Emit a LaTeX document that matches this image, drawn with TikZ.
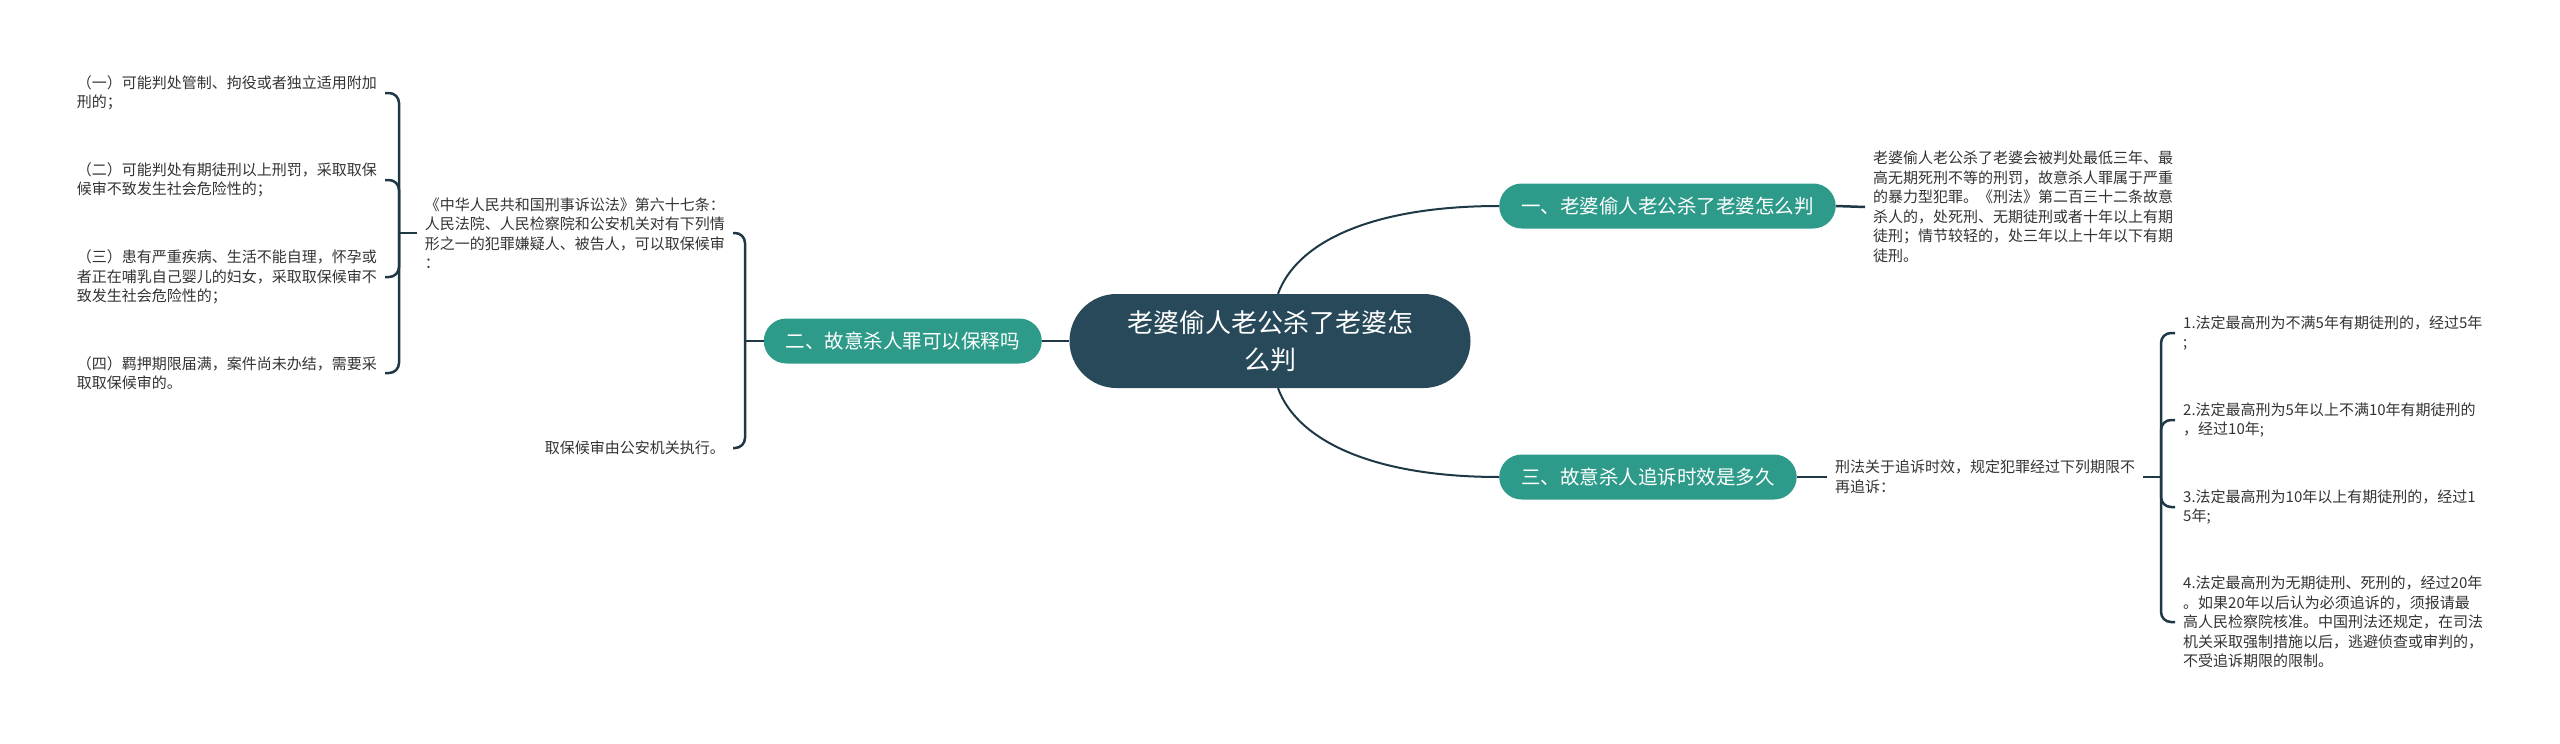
\documentclass[tikz,border=0pt]{standalone}
\usepackage{fontspec}
\setmainfont{Noto Sans CJK SC}
\definecolor{rootcol}{RGB}{39,73,90}
\definecolor{branchcol}{RGB}{46,155,138}
\definecolor{linkcol}{RGB}{30,56,70}
\definecolor{notecol}{RGB}{51,51,51}

\begin{document}
\begin{tikzpicture}[x=1pt,y=-1pt,
    root/.style={fill=rootcol,text=white,rounded corners=47pt,minimum width=401pt,minimum height=94pt,align=center,font=\fontsize{26}{37}\selectfont},
    branch/.style={fill=branchcol,text=white,rounded corners=22.5pt,minimum height=45pt,inner xsep=22pt,font=\fontsize{19.5}{24}\selectfont},
    note/.style={text=notecol,align=left,inner xsep=8pt,inner ysep=0pt,font=\fontsize{15}{19.5}\selectfont},
    link/.style={draw=linkcol,line width=2pt},
    brace/.style={draw=linkcol,line width=2.5pt,rounded corners=10pt}]
    \useasboundingbox (0,0) rectangle (2560,744);
    \node[root] (root) at (1270,341) {老婆偷人老公杀了老婆怎\\么判};
    \node[branch,anchor=west] (b1) at (1499,206) {一、老婆偷人老公杀了老婆怎么判};
    \node[branch,anchor=east] (b2) at (1042,341) {二、故意杀人罪可以保释吗};
    \node[branch,anchor=west] (b3) at (1499,477) {三、故意杀人追诉时效是多久};
    \draw[link] ([xshift=8pt]root.north) .. controls +(19,-52) and +(-127,0) .. (b1.west);
    \draw[link] ([xshift=8pt]root.south) .. controls +(19,52) and +(-127,0) .. (b3.west);
    \draw[link] (root.west) -- (b2.east);
    % right side
    \node[note,anchor=west] (t1) at (1865,207) {老婆偷人老公杀了老婆会被判处最低三年、最\\高无期死刑不等的刑罚，故意杀人罪属于严重\\的暴力型犯罪。《刑法》第二百三十二条故意\\杀人的，处死刑、无期徒刑或者十年以上有期\\徒刑；情节较轻的，处三年以上十年以下有期\\徒刑。};
    \draw[brace] (b1.east) -- (t1.west);
    \node[note,anchor=west] (t3) at (1827,477) {刑法关于追诉时效，规定犯罪经过下列期限不\\再追诉：};
    \draw[brace] (b3.east) -- (t3.west);
    \coordinate (j3) at (2161,477);
    \node[note,anchor=west] (i1) at (2175,333) {1.法定最高刑为不满5年有期徒刑的，经过5年\\;};
    \node[note,anchor=west] (i2) at (2175,420) {2.法定最高刑为5年以上不满10年有期徒刑的\\，经过10年;};
    \node[note,anchor=west] (i3) at (2175,507) {3.法定最高刑为10年以上有期徒刑的，经过1\\5年;};
    \node[note,anchor=west] (i4) at (2175,622) {4.法定最高刑为无期徒刑、死刑的，经过20年\\。如果20年以后认为必须追诉的，须报请最\\高人民检察院核准。中国刑法还规定，在司法\\机关采取强制措施以后，逃避侦查或审判的，\\不受追诉期限的限制。};
    \draw[brace] (t3.east) -- (j3);
    \draw[brace] (j3) |- (i1.west);
    \draw[brace] (j3) |- (i2.west);
    \draw[brace] (j3) |- (i3.west);
    \draw[brace] (j3) |- (i4.west);
    % left side
    \coordinate (j2) at (745,341);
    \node[note,anchor=east] (t2a) at (733,233) {《中华人民共和国刑事诉讼法》第六十七条：\\人民法院、人民检察院和公安机关对有下列情\\形之一的犯罪嫌疑人、被告人，可以取保候审\\：};
    \node[note,anchor=east] (t2b) at (733,448) {取保候审由公安机关执行。};
    \draw[brace] (b2.west) -- (j2);
    \draw[brace] (j2) |- (t2a.east);
    \draw[brace] (j2) |- (t2b.east);
    \coordinate (j2a) at (399,233);
    \node[note,anchor=east] (g1) at (385,93) {（一）可能判处管制、拘役或者独立适用附加\\刑的；};
    \node[note,anchor=east] (g2) at (385,180) {（二）可能判处有期徒刑以上刑罚，采取取保\\候审不致发生社会危险性的；};
    \node[note,anchor=east] (g3) at (385,277) {（三）患有严重疾病、生活不能自理，怀孕或\\者正在哺乳自己婴儿的妇女，采取取保候审不\\致发生社会危险性的；};
    \node[note,anchor=east] (g4) at (385,373) {（四）羁押期限届满，案件尚未办结，需要采\\取取保候审的。};
    \draw[brace] (t2a.west) -- (j2a);
    \draw[brace] (j2a) |- (g1.east);
    \draw[brace] (j2a) |- (g2.east);
    \draw[brace] (j2a) |- (g3.east);
    \draw[brace] (j2a) |- (g4.east);
\end{tikzpicture}
\end{document}
